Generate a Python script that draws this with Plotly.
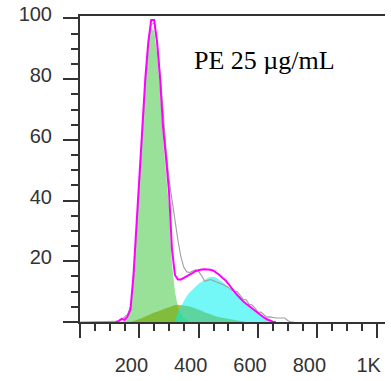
import plotly.graph_objects as go

# Channel positions (bin centres) of the DNA-content histogram
channel = [0] + list(range(100, 730, 10))

# Fitted total model (magenta)
model_total = [None, None, None, 0, 0.3, 1.0, 0.7, 1.8, 4, 15, 32, 48, 62, 80, 92, 99.5, 99.5, 92, 80, 64, 54,
               43, 24, 15.5, 14, 14, 14.5, 15, 15.6, 16.2, 16.8, 17.1, 17.3, 17.4, 17.4, 17.2, 16.9, 16.3,
               15.5, 14.6, 13.8, 12.6, 11.2, 10, 8.9, 7.8, 6.8, 6, 5.2, 4.5, 3.6, 2.8, 2.1, 1.5, 0.9,
               0.4, 0.1, 0, None, None, None, None, None, None]

# Raw histogram (gray)
raw_counts = [0, 0, 0, 0, 0.2, 0.8, 1.5, 2.5, 5, 13, 29, 46, 61, 78, 90, 98, 98.5, 92, 82, 68, 57,
              47, 40, 33.5, 27, 21.5, 18, 16.5, 16.3, 16.8, 17.2, 16.6, 15.3, 13.4, 13.6, 14, 13.6, 13.3,
              12.8, 12.4, 11.9, 11.4, 10.6, 10, 10, 8.7, 7.5, 7.3, 5.8, 5.6, 4.6, 3.2, 3.3, 2.4, 1.6,
              1.7, 1.4, 1.3, 1.3, 1.3, 1.3, 0.5, 0, 0]

# G1 peak (green)
g1_peak = [0, 0, 0, 0, 0, 0, 0.3, 1.5, 3.5, 14, 30, 46, 60, 77, 89, 96.5, 96, 88, 76, 60, 49,
           38, 19, 10, 5, 2.5, 1.2, 0.5, 0, 0, 0, 0, 0, 0, 0, 0, 0, 0,
           0, 0, 0, 0, 0, 0, 0, 0, 0, 0, 0, 0, 0, 0, 0, 0, 0,
           0, 0, 0, 0, 0, 0, 0, 0, 0]

# S phase (olive / teal overlap)
s_phase = [0, 0, 0, 0, 0, 0, 0, 0, 0.1, 0.3, 0.6, 0.9, 1.3, 1.8, 2.3, 2.7, 3.1, 3.4, 3.7, 4.1, 4.5,
           4.9, 5.3, 5.6, 5.7, 5.6, 5.5, 5.3, 5.1, 4.8, 4.5, 4.1, 3.7, 3.2, 2.8, 2.4, 2.1, 1.8,
           1.6, 1.4, 1.2, 1.0, 0.8, 0.6, 0.45, 0.3, 0.15, 0, 0, 0, 0, 0, 0, 0, 0,
           0, 0, 0, 0, 0, 0, 0, 0, 0]

# G2 peak (cyan)
g2_peak = [0, 0, 0, 0, 0, 0, 0, 0, 0, 0, 0, 0, 0, 0, 0, 0, 0, 0, 0, 0, 0,
           0, 0, 0, 3.5, 5.3, 7.2, 8.6, 9.8, 10.8, 11.8, 12.6, 13.3, 14, 14.5, 14.8, 14.9, 14.6,
           14, 13.2, 12.4, 11.4, 10.4, 9.4, 8.4, 7.4, 6.5, 5.8, 5.1, 4.4, 3.6, 2.8, 2.1, 1.5, 0.9,
           0.4, 0.1, 0, 0, 0, 0, 0, 0, 0]

x_tick_vals = [0, 200, 400, 600, 800, 1000]
x_tick_text = ["", "200", "400", "600", "800", "1K"]
y_tick_vals = [0, 20, 40, 60, 80, 100]
y_tick_text = ["", "20", "40", "60", "80", "100"]
label = "PE 25 µg/mL"

fig = go.Figure()
fig.add_trace(go.Scatter(x=channel, y=s_phase, mode="lines", fill="tozeroy",
                         line=dict(width=0, color="rgba(0,0,0,0)"),
                         fillcolor="rgb(205,180,60)", hoverinfo="skip"))
fig.add_trace(go.Scatter(x=channel, y=g1_peak, mode="lines", fill="tozeroy",
                         line=dict(width=0, color="rgba(0,0,0,0)"),
                         fillcolor="rgba(60,195,60,0.52)", hoverinfo="skip"))
fig.add_trace(go.Scatter(x=channel, y=g2_peak, mode="lines", fill="tozeroy",
                         line=dict(width=0, color="rgba(0,0,0,0)"),
                         fillcolor="rgba(0,240,240,0.55)", hoverinfo="skip"))
fig.add_trace(go.Scatter(x=channel, y=raw_counts, mode="lines",
                         line=dict(width=1.1, color="#a0a0a0"), hoverinfo="skip"))
fig.add_trace(go.Scatter(x=channel, y=model_total, mode="lines",
                         line=dict(width=2, color="#ff00ff"), hoverinfo="skip"))

axis_color = "#333333"
tick_font = dict(family="Liberation Sans, Arial, sans-serif", size=20, color="#333333")

fig.update_layout(
    width=391, height=381,
    margin=dict(l=80, r=6, t=16, b=59, autoexpand=False),
    plot_bgcolor="white", paper_bgcolor="white",
    showlegend=False,
    xaxis=dict(range=[0, 1028], tickmode="array", tickvals=x_tick_vals, ticktext=x_tick_text,
               ticks="outside", ticklen=14, tickwidth=2, tickcolor=axis_color,
               showline=True, linewidth=2, linecolor=axis_color, mirror=True,
               showgrid=False, zeroline=False, tickfont=tick_font, automargin=False,
               ticklabelstandoff=10, ticklabelshift=-8,
               minor=dict(ticks="outside", ticklen=7, tickwidth=2, tickcolor=axis_color,
                          tickmode="linear", tick0=0, dtick=50, showgrid=False)),
    yaxis=dict(range=[0, 100.8], tickmode="array", tickvals=y_tick_vals, ticktext=y_tick_text,
               ticks="outside", ticklen=15, tickwidth=2, tickcolor=axis_color,
               showline=True, linewidth=2, linecolor=axis_color,
               showgrid=False, zeroline=False, tickfont=tick_font, automargin=False,
               ticklabelstandoff=7, ticklabelshift=-4,
               minor=dict(ticks="outside", ticklen=7, tickwidth=2, tickcolor=axis_color,
                          tickmode="linear", tick0=0, dtick=5, showgrid=False)),
    annotations=[dict(text=label, xref="paper", yref="paper", x=0.367, y=0.853,
                      xanchor="left", yanchor="middle", showarrow=False,
                      font=dict(family="Liberation Serif, Times New Roman, serif", size=26,
                                color="black"))],
)

fig.write_html("out.html", config={"displayModeBar": False},
               post_script="document.body.style.margin='0';")
